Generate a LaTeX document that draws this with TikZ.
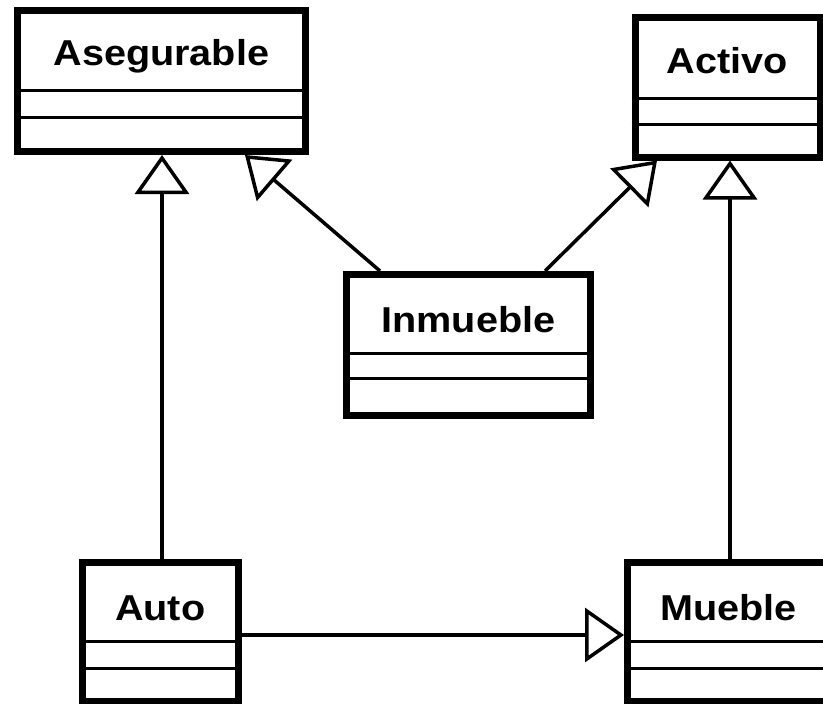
\documentclass[tikz,border=0pt]{standalone}
\usepackage{fontspec}
\usetikzlibrary{arrows.meta}
\newfontfamily\umlfont{Liberation Sans}[FakeStretch=1.1]

\tikzset{
  classbox/.style={draw=black, line width=7pt, outer sep=3.5pt, inner sep=0pt, fill=white},
  classtitle/.style={anchor=base, inner sep=0pt, font=\umlfont\bfseries\fontsize{36}{40}\selectfont},
  divider/.style={line width=3pt},
  inherit/.style={line width=3.5pt, -{Triangle[length=39pt, width=54pt, fill=white]}},
}

% \umlclass{name}{title}{left}{top}{right}{bottom}{divider 1}{divider 2}{title baseline}
\newcommand{\umlclass}[9]{%
  \node[classbox, minimum width={(#5-#3)*1pt}, minimum height={(#6-#4)*1pt}]
    (#1) at ({(#3+#5)/2}, {(#4+#6)/2}) {};
  \draw[divider] (#1.west |- 0,#7) -- (#1.east |- 0,#7);
  \draw[divider] (#1.west |- 0,#8) -- (#1.east |- 0,#8);
  \node[classtitle] (#1-title) at ({(#3+#5)/2}, #9) {#2};
}

\begin{document}
\begin{tikzpicture}[x=1pt, y=-1pt]
  \useasboundingbox (0,0) rectangle (823,704);

  \umlclass{ase}{Asegurable}{17.5}{10.5}{305}{151.5}{90}{117}{65}
  \umlclass{act}{Activo}{635}{17.5}{820}{157}{98}{124}{73}
  \umlclass{inm}{Inmueble}{346.5}{274.5}{590.5}{415}{353}{378}{332}
  \umlclass{aut}{Auto}{82.5}{562.5}{238}{701}{641}{668}{620}
  \umlclass{mue}{Mueble}{627.5}{562.5}{830}{701}{641}{668}{620}

  % generalisation arrows
  \draw[inherit] (aut.north -| 162,0) -- (ase.south -| 162,0);
  \draw[inherit] (mue.north -| 730,0) -- (act.south -| 730,0);
  \draw[inherit] (inm.north -| 380,0) -- (ase.south -| 245,0);
  \draw[inherit] (inm.north -| 545,0) -- (act.south -| 657,0);
  \draw[inherit] (aut.east |- 0,635) -- (mue.west |- 0,635);
\end{tikzpicture}
\end{document}
